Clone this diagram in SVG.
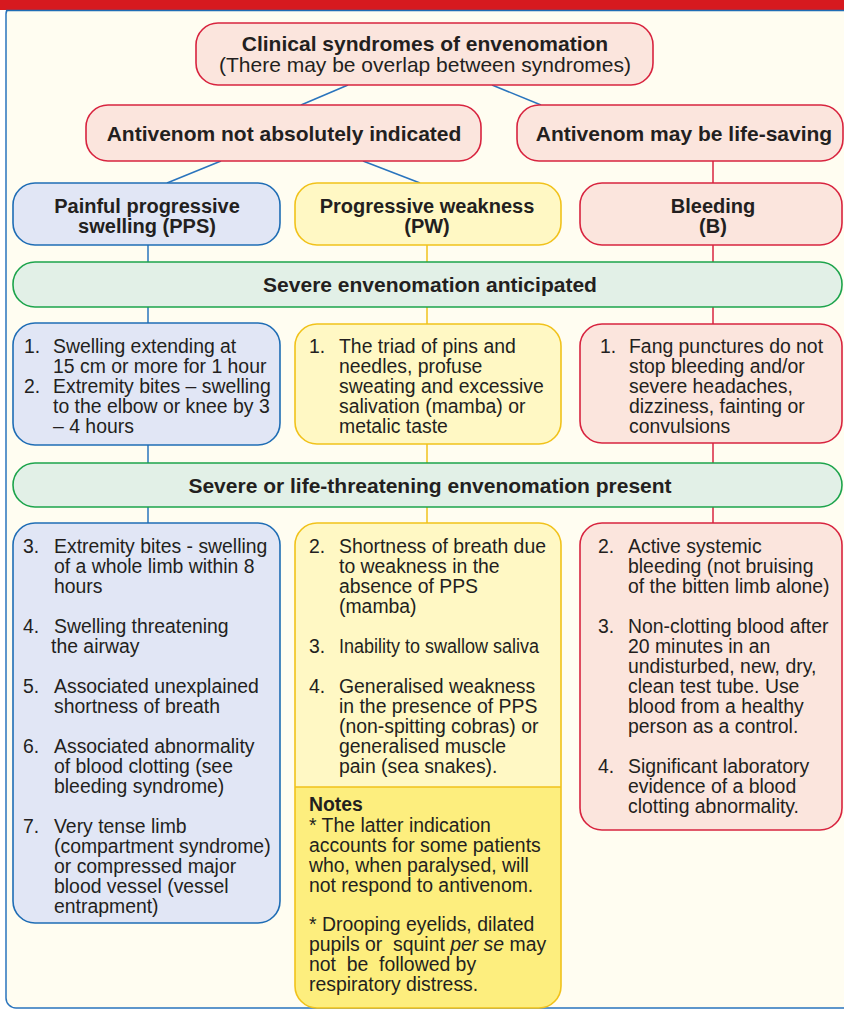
<svg xmlns="http://www.w3.org/2000/svg" width="844" height="1010" viewBox="0 0 844 1010">
<style>
text{font-family:"Liberation Sans",Arial,sans-serif;fill:#231f20;}
.h{font-size:21px;font-weight:bold;text-anchor:middle;}
.hr{font-size:21px;text-anchor:middle;}
.s{font-size:20px;font-weight:bold;text-anchor:middle;}
.b{font-size:19.4px;}
.bb{font-size:19.4px;font-weight:bold;}
.pink{fill:#fbe5dd;stroke:#d8243f;stroke-width:1.6;}
.blue{fill:#e1e6f5;stroke:#1f6db5;stroke-width:1.6;}
.yel{fill:#fff8c4;stroke:#f1c21b;stroke-width:1.6;}
.grn{fill:#e2f0e7;stroke:#1da44c;stroke-width:1.6;}
.cb{stroke:#2a74bd;stroke-width:1.5;fill:none;}
.cy{stroke:#f1c21b;stroke-width:1.5;fill:none;}
.cr{stroke:#d8243f;stroke-width:1.5;fill:none;}
</style>
<rect x="0" y="0" width="844" height="1010" fill="#ffffff"/>
<rect id="frame" x="6" y="4" width="860" height="1004" rx="10" fill="#fffdf1" stroke="#2a74bd" stroke-width="1.5"/>
<rect id="topbar" x="0" y="0" width="844" height="10" fill="#d7191f"/>
<line x1="6" y1="10.5" x2="844" y2="10.5" stroke="#1f6db5" stroke-width="1.5"/>

<g id="connectors">
<line class="cb" x1="348" y1="85" x2="301" y2="105"/>
<line class="cb" x1="492" y1="85" x2="541" y2="105"/>
<line class="cb" x1="221" y1="161" x2="167" y2="183"/>
<line class="cb" x1="363" y1="161" x2="420" y2="183"/>
<line class="cr" x1="713" y1="161" x2="713" y2="183"/>
<line class="cb" x1="148" y1="245" x2="148" y2="262"/>
<line class="cy" x1="427" y1="245" x2="427" y2="262"/>
<line class="cr" x1="713" y1="245" x2="713" y2="262"/>
<line class="cb" x1="148" y1="307" x2="148" y2="323"/>
<line class="cy" x1="427" y1="307" x2="427" y2="324"/>
<line class="cr" x1="713" y1="307" x2="713" y2="324"/>
<line class="cb" x1="148" y1="445" x2="148" y2="463"/>
<line class="cy" x1="427" y1="444" x2="427" y2="463"/>
<line class="cr" x1="713" y1="443" x2="713" y2="463"/>
<line class="cb" x1="148" y1="507" x2="148" y2="523"/>
<line class="cy" x1="427" y1="507" x2="427" y2="523"/>
<line class="cr" x1="713" y1="507" x2="713" y2="523"/>
</g>

<g id="clinical">
<rect class="pink" x="196" y="23" width="457" height="62" rx="22"/>
<text class="h" x="425" y="50.5">Clinical syndromes of envenomation</text>
<text class="hr" x="425" y="72">(There may be overlap between syndromes)</text>
</g>

<g id="not-indicated">
<rect class="pink" x="86" y="105" width="395" height="56" rx="22"/>
<text class="h" x="284" y="140.5">Antivenom not absolutely indicated</text>
</g>

<g id="life-saving">
<rect class="pink" x="517" y="105" width="326" height="56" rx="22"/>
<text class="h" x="684" y="140.5">Antivenom may be life-saving</text>
</g>

<g id="pps">
<rect class="blue" x="13" y="183" width="267" height="62" rx="22"/>
<text class="s" x="147" y="213">Painful progressive</text>
<text class="s" x="147" y="233">swelling (PPS)</text>
</g>

<g id="pw">
<rect class="yel" x="295" y="183" width="266" height="62" rx="22"/>
<text class="s" x="427" y="213">Progressive weakness</text>
<text class="s" x="427" y="233">(PW)</text>
</g>

<g id="bleeding">
<rect class="pink" x="580" y="183" width="262" height="62" rx="22"/>
<text class="s" x="713" y="213">Bleeding</text>
<text class="s" x="713" y="233">(B)</text>
</g>

<g id="anticipated">
<rect class="grn" x="13" y="262" width="829" height="45" rx="22"/>
<text class="h" x="430" y="292">Severe envenomation anticipated</text>
</g>

<g id="pps-1">
<rect class="blue" x="13" y="323" width="267" height="122" rx="22"/>
<text class="b" x="24" y="353">1.</text><text class="b" x="53" y="353">Swelling extending at</text>
<text class="b" x="53" y="373">15 cm or more for 1 hour</text>
<text class="b" x="24" y="393">2.</text><text class="b" x="53" y="393">Extremity bites – swelling</text>
<text class="b" x="53" y="413">to the elbow or knee by 3</text>
<text class="b" x="53" y="433">– 4 hours</text>
</g>

<g id="pw-1">
<rect class="yel" x="295" y="324" width="266" height="120" rx="22"/>
<text class="b" x="309" y="353">1.</text><text class="b" x="339" y="353">The triad of pins and</text>
<text class="b" x="339" y="373">needles, profuse</text>
<text class="b" x="339" y="393">sweating and excessive</text>
<text class="b" x="339" y="413">salivation (mamba) or</text>
<text class="b" x="339" y="433">metalic taste</text>
</g>

<g id="b-1">
<rect class="pink" x="580" y="324" width="262" height="119" rx="22"/>
<text class="b" x="600" y="353">1.</text><text class="b" x="629" y="353">Fang punctures do not</text>
<text class="b" x="629" y="373">stop bleeding and/or</text>
<text class="b" x="629" y="393">severe headaches,</text>
<text class="b" x="629" y="413">dizziness, fainting or</text>
<text class="b" x="629" y="433">convulsions</text>
</g>

<g id="present">
<rect class="grn" x="13" y="463" width="829" height="44" rx="22"/>
<text class="h" x="430" y="492.5">Severe or life-threatening envenomation present</text>
</g>

<g id="pps-2">
<rect class="blue" x="13" y="523" width="267" height="400" rx="22"/>
<text class="b" x="23" y="553">3.</text><text class="b" x="54" y="553">Extremity bites - swelling</text>
<text class="b" x="54" y="573">of a whole limb within 8</text>
<text class="b" x="54" y="593">hours</text>
<text class="b" x="23" y="633">4.</text><text class="b" x="54" y="633">Swelling threatening</text>
<text class="b" x="51" y="653">the airway</text>
<text class="b" x="23" y="693">5.</text><text class="b" x="54" y="693">Associated unexplained</text>
<text class="b" x="54" y="713">shortness of breath</text>
<text class="b" x="23" y="753">6.</text><text class="b" x="54" y="753">Associated abnormality</text>
<text class="b" x="54" y="773">of blood clotting (see</text>
<text class="b" x="54" y="793">bleeding syndrome)</text>
<text class="b" x="23" y="833">7.</text><text class="b" x="54" y="833">Very tense limb</text>
<text class="b" x="54" y="853">(compartment syndrome)</text>
<text class="b" x="54" y="873">or compressed major</text>
<text class="b" x="54" y="893">blood vessel (vessel</text>
<text class="b" x="54" y="913">entrapment)</text>
</g>

<g id="pw-2">
<path d="M317,523 H539 A22,22 0 0 1 561,545 V787 H295 V545 A22,22 0 0 1 317,523 Z" fill="#fff8c4"/>
<path d="M295,787 H561 V986 A22,22 0 0 1 539,1008 H317 A22,22 0 0 1 295,986 Z" fill="#fdee7e"/>
<rect x="295" y="523" width="266" height="485" rx="22" fill="none" stroke="#f1c21b" stroke-width="1.6"/>
<line x1="295" y1="787" x2="561" y2="787" stroke="#f1c21b" stroke-width="1.5"/>
<text class="b" x="309" y="553">2.</text><text class="b" x="339" y="553">Shortness of breath due</text>
<text class="b" x="339" y="573">to weakness in the</text>
<text class="b" x="339" y="593">absence of PPS</text>
<text class="b" x="339" y="613">(mamba)</text>
<text class="b" x="309" y="653">3.</text><text class="b" x="339" y="653" textLength="200" lengthAdjust="spacingAndGlyphs">Inability to swallow saliva</text>
<text class="b" x="309" y="693">4.</text><text class="b" x="339" y="693">Generalised weakness</text>
<text class="b" x="339" y="713">in the presence of PPS</text>
<text class="b" x="339" y="733">(non-spitting cobras) or</text>
<text class="b" x="339" y="753">generalised muscle</text>
<text class="b" x="339" y="773">pain (sea snakes).</text>
<text class="bb" x="309" y="811">Notes</text>
<text class="b" x="309" y="832">* The latter indication</text>
<text class="b" x="309" y="852">accounts for some patients</text>
<text class="b" x="309" y="872">who, when paralysed, will</text>
<text class="b" x="309" y="892">not respond to antivenom.</text>
<text class="b" x="309" y="931">* Drooping eyelids, dilated</text>
<text class="b" x="309" y="951" xml:space="preserve">pupils or  squint <tspan font-style="italic">per se</tspan> may</text>
<text class="b" x="309" y="971" xml:space="preserve">not  be  followed by</text>
<text class="b" x="309" y="991">respiratory distress.</text>
</g>

<g id="b-2">
<rect class="pink" x="580" y="523" width="262" height="307" rx="22"/>
<text class="b" x="598" y="553">2.</text><text class="b" x="628" y="553">Active systemic</text>
<text class="b" x="628" y="573">bleeding (not bruising</text>
<text class="b" x="628" y="593">of the bitten limb alone)</text>
<text class="b" x="598" y="633">3.</text><text class="b" x="628" y="633">Non-clotting blood after</text>
<text class="b" x="628" y="653">20 minutes in an</text>
<text class="b" x="628" y="673">undisturbed, new, dry,</text>
<text class="b" x="628" y="693">clean test tube. Use</text>
<text class="b" x="628" y="713">blood from a healthy</text>
<text class="b" x="628" y="733">person as a control.</text>
<text class="b" x="598" y="773">4.</text><text class="b" x="628" y="773">Significant laboratory</text>
<text class="b" x="628" y="793">evidence of a blood</text>
<text class="b" x="628" y="813">clotting abnormality.</text>
</g>
</svg>
